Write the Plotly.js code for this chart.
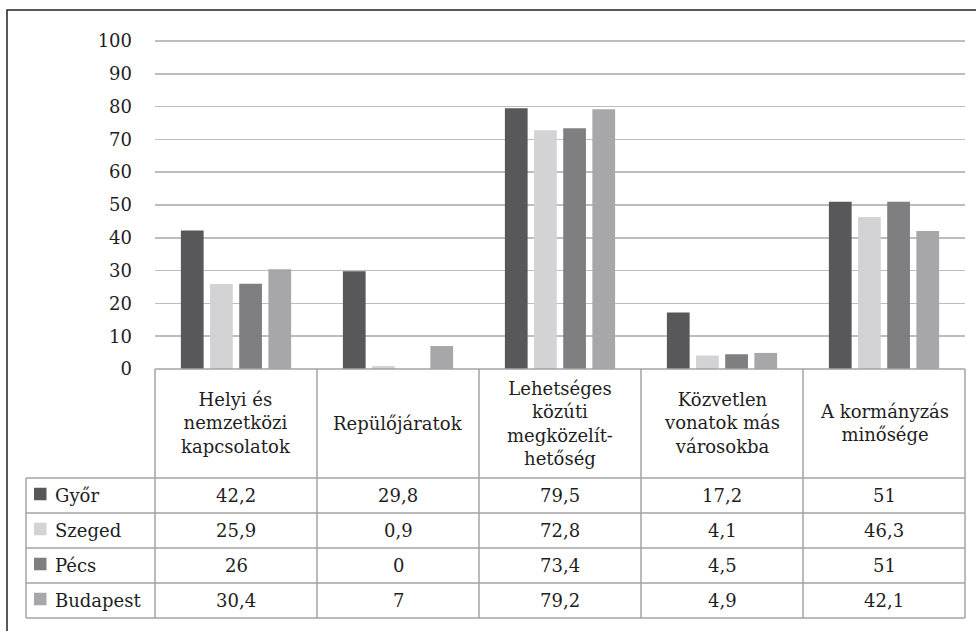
<!DOCTYPE html>
<html>
<head>
<meta charset="utf-8">
<script src="https://cdn.plot.ly/plotly-3.0.1.min.js"></script>
<style>
  html, body { margin: 0; padding: 0; background: #fff; }
  #chart { width: 976px; height: 631px; }
</style>
</head>
<body>
<div id="chart"></div>
<script>
// ---- data ----
const categories = ["Helyi és nemzetközi kapcsolatok", "Repülőjáratok", "Lehetséges közúti megközelíthetőség", "Közvetlen vonatok más városokba", "A kormányzás minősége"];
const headerLabels = ["Helyi és<br>nemzetközi<br>kapcsolatok", "Repülőjáratok", "Lehetséges<br>közúti<br>megközelít-<br>hetőség", "Közvetlen<br>vonatok más<br>városokba", "A kormányzás<br>minősége"];
const seriesNames = ["Győr", "Szeged", "Pécs", "Budapest"];
const gyor     = [42.2, 29.8, 79.5, 17.2, 51];
const szeged   = [25.9, 0.9, 72.8, 4.1, 46.3];
const pecs     = [26, 0, 73.4, 4.5, 51];
const budapest = [30.4, 7, 79.2, 4.9, 42.1];
const yTicks = [0, 10, 20, 30, 40, 50, 60, 70, 80, 90, 100];

// ---- styling ----
const seriesValues = [gyor, szeged, pecs, budapest];
const colors = ["#58585a", "#d3d3d5", "#7f7f82", "#a7a7aa"];
const FONT = "DejaVu Serif";
const TXT = "#1e1e1e";
const FS = 18;

// pixel geometry of plot area
const L = 155, R = 965, T = 39, B = 369;
const W = R - L, H = B - T;
const px = x => (x - L) / W;        // pixel x -> paper
const py = y => (B - y) / H;        // pixel y -> paper

const traces = seriesNames.map((name, i) => ({
  type: "bar",
  name: name,
  x: categories,
  y: seriesValues[i],
  marker: { color: colors[i], line: { width: 0 } },
  hoverinfo: "x+y+name"
}));

// table geometry
const headerTop = 369, headerBot = 478, rowH = 35, tableLeft = 26;
const shapes = [];
const gridCol = "#a3a3a3";
// outer frame
shapes.push({ type: "rect", xref: "paper", yref: "paper",
  x0: px(7), x1: px(990), y0: py(10), y1: py(645),
  line: { color: "#222", width: 1.5 }, fillcolor: "rgba(0,0,0,0)" });
// header top line
shapes.push({ type: "line", xref: "paper", yref: "paper", x0: px(L), x1: px(R), y0: py(headerTop), y1: py(headerTop), line: { color: gridCol, width: 1.5 } });
// row lines
for (let r = 0; r <= seriesNames.length; r++) {
  const y = headerBot + r * rowH;
  shapes.push({ type: "line", xref: "paper", yref: "paper", x0: px(tableLeft), x1: px(R), y0: py(y), y1: py(y), line: { color: gridCol, width: 1.5 } });
}
const tableBot = headerBot + seriesNames.length * rowH;
// vertical lines
for (let c = 0; c <= categories.length; c++) {
  const x = L + c * (W / categories.length);
  shapes.push({ type: "line", xref: "paper", yref: "paper", x0: px(x), x1: px(x), y0: py(headerTop), y1: py(tableBot), line: { color: gridCol, width: 1.5 } });
}
shapes.push({ type: "line", xref: "paper", yref: "paper", x0: px(tableLeft), x1: px(tableLeft), y0: py(headerBot), y1: py(tableBot), line: { color: gridCol, width: 1.5 } });

// legend squares
seriesNames.forEach((n, i) => {
  const cy = headerBot + i * rowH + rowH / 2 - 1.5;
  shapes.push({ type: "rect", xref: "paper", yref: "paper",
    x0: px(34), x1: px(46.5), y0: py(cy - 6.25), y1: py(cy + 6.25),
    fillcolor: colors[i], line: { width: 0 } });
});

const annotations = [];
const fmt = v => String(v).replace(".", ",");
// header labels
categories.forEach((c, j) => {
  annotations.push({ xref: "x", yref: "paper", x: c, y: py((headerTop + headerBot) / 2),
    text: headerLabels[j], showarrow: false, xanchor: "center", yanchor: "middle",
    align: "center", font: { family: FONT, size: FS, color: TXT } });
});
// rows
seriesNames.forEach((n, i) => {
  const cy = headerBot + i * rowH + rowH / 2;
  annotations.push({ xref: "paper", yref: "paper", x: px(53), y: py(cy),
    text: n, showarrow: false, xanchor: "left", yanchor: "middle",
    font: { family: FONT, size: FS, color: TXT } });
  categories.forEach((c, j) => {
    annotations.push({ xref: "x", yref: "paper", x: c, y: py(cy),
      text: fmt(seriesValues[i][j]), showarrow: false, xanchor: "center", yanchor: "middle",
      font: { family: FONT, size: FS, color: TXT } });
  });
});

const layout = {
  width: 976, height: 631,
  margin: { l: L, r: 976 - R, t: T, b: 631 - B, pad: 0 },
  paper_bgcolor: "#fff", plot_bgcolor: "#fff",
  barmode: "group", bargap: 0.28, bargroupgap: 0.22,
  showlegend: false,
  font: { family: FONT, size: FS, color: TXT },
  xaxis: { type: "category", showticklabels: false, showgrid: false, zeroline: false, showline: false, ticks: "", fixedrange: true },
  yaxis: { range: [0, 100.6], tickvals: yTicks, ticktext: yTicks.map(String), showgrid: true, gridcolor: "#bdbdbd", gridwidth: 1.5,
    zeroline: false, showline: false, ticks: "", ticklabelstandoff: 22,
    tickfont: { family: FONT, size: FS, color: TXT }, fixedrange: true },
  shapes: shapes,
  annotations: annotations
};

Plotly.newPlot("chart", traces, layout, { displayModeBar: false, staticPlot: true });
</script>
</body>
</html>
